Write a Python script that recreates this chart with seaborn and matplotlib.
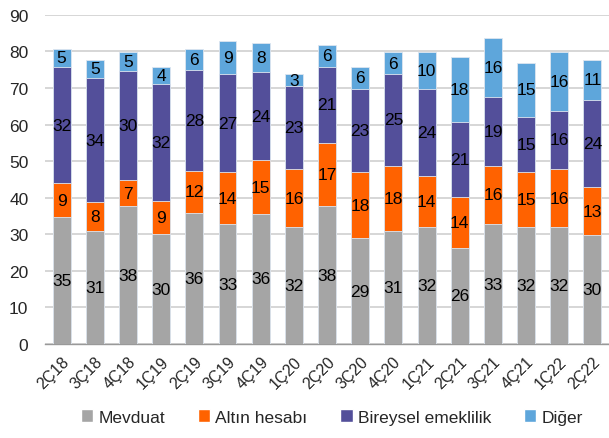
import numpy as np
import pandas as pd
import matplotlib
matplotlib.use('Agg')
import matplotlib.pyplot as plt
import seaborn as sns
from matplotlib.ticker import FixedLocator
from matplotlib.patches import Patch

donemler = ['2Ç18', '3Ç18', '4Ç18', '1Ç19', '2Ç19', '3Ç19', '4Ç19', '1Ç20', '2Ç20',
            '3Ç20', '4Ç20', '1Ç21', '2Ç21', '3Ç21', '4Ç21', '1Ç22', '2Ç22']
mevduat = [34.8, 30.9, 37.7, 30.0, 35.8, 32.8, 35.6, 31.9, 37.7, 29.0, 30.9, 31.9, 26.3, 32.8, 31.9, 31.9, 29.9]
altin = [9.1, 7.9, 7.1, 9.2, 11.6, 14.1, 14.6, 15.9, 17.2, 17.9, 17.9, 14.0, 13.8, 16.0, 15.1, 15.9, 12.9]
bireysel = [31.9, 33.9, 29.9, 32.0, 27.6, 26.8, 24.2, 22.8, 20.9, 22.9, 24.9, 23.9, 20.6, 18.8, 15.2, 16.0, 23.9]
diger = [4.9, 5.0, 5.1, 4.4, 5.7, 9.1, 8.0, 3.1, 6.0, 6.0, 6.1, 10.0, 17.9, 16.1, 14.6, 16.0, 11.0]

seriler = ['Mevduat', 'Altın hesabı', 'Bireysel emeklilik', 'Diğer']
renkler = ['#A5A5A5', '#FF6200', '#534F9A', '#5EA6DB']

df = pd.DataFrame({'Dönem': donemler, 'Mevduat': mevduat, 'Altın hesabı': altin,
                   'Bireysel emeklilik': bireysel, 'Diğer': diger})
kum = df[seriler].cumsum(axis=1)

sns.set_style('white')
plt.rcParams['font.family'] = ['Liberation Sans', 'DejaVu Sans']

fig = plt.figure(figsize=(6.09, 4.39), dpi=100)
ax = fig.add_axes([0.074, 0.214, 0.926, 0.75])

# ustten alta dogru kumulatif cubuklar
for seri, renk in reversed(list(zip(seriler, renkler))):
    sns.barplot(x=df['Dönem'], y=kum[seri], color=renk, width=0.54, ax=ax,
                edgecolor='#DDE6F0', linewidth=0.6, saturation=1, zorder=3)

# etiketler
for i in range(len(donemler)):
    alt = 0
    for seri in seriler:
        v = df[seri][i]
        ax.text(i, alt + v / 2, f'{v:.0f}', ha='center', va='center', fontsize=12.5,
                color='black', zorder=5)
        alt += v

ax.set_ylim(0, 90)
ax.set_xlim(-0.5, len(donemler) - 0.5)
ax.set_yticks(range(0, 91, 10))
ax.yaxis.grid(True, color='#D0D0D0', linewidth=1.2, zorder=0)
ax.set_axisbelow(True)
ax.set_xlabel('')
ax.set_ylabel('')
for s in ['top', 'right', 'left']:
    ax.spines[s].set_visible(False)
ax.spines['bottom'].set_color('#999999')
ax.spines['bottom'].set_linewidth(1)

ax.tick_params(axis='y', labelsize=12.5, length=0, pad=12)
ax.tick_params(axis='x', which='major', length=0, labelsize=11.5, pad=7)
ax.xaxis.set_minor_locator(FixedLocator(np.arange(-0.5, len(donemler), 1)))
ax.tick_params(axis='x', which='minor', length=5, color='#999999', width=1, direction='out')
plt.setp(ax.get_xticklabels(), rotation=45, ha='right', rotation_mode='anchor')

handles = [Patch(facecolor=r, label=s) for s, r in zip(seriler, renkler)]
fig.legend(handles=handles, loc='lower center', bbox_to_anchor=(0.545, -0.005), ncol=4,
           frameon=False, fontsize=12.5, handlelength=0.7, handleheight=0.7,
           handletextpad=0.3, columnspacing=1.9)

fig.savefig('out.png', dpi=100)
